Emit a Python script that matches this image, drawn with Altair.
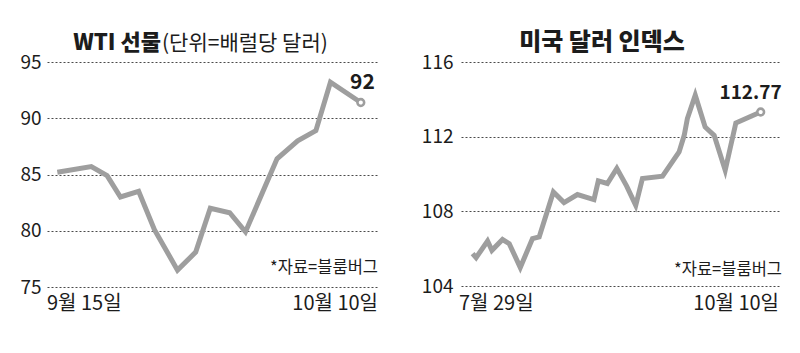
import altair as alt
import pandas as pd

# ---------------- data ----------------
# WTI futures, x = days since 9월 15일
wti_days = [0, 2.8, 4.1, 5.2, 6.7, 8.0, 9.9, 11.4, 12.6, 14.2, 15.5, 18.1, 19.8, 21.3, 22.5, 25]
wti_values = [85.2, 85.7, 84.9, 83.0, 83.5, 80.1, 76.5, 78.1, 82.0, 81.6, 79.9, 86.4, 88.0, 88.9, 93.2, 91.4]
wti_ticks = [75, 80, 85, 90, 95]
wti_end_label = "92"

# US dollar index, x = days since 7월 29일
dxy_days = [0, 0.9, 3.8, 4.9, 7.6, 9.3, 12.1, 15.2, 16.9, 20.5, 23.2, 26.6, 30.8, 31.9, 34.2,
            36.6, 39.1, 41.4, 43.1, 48.2, 52.4, 53.7, 54.5, 56.5, 59.0, 61.3, 64.1, 66.8, 73.1]
dxy_values = [105.74, 105.52, 106.41, 105.91, 106.49, 106.27, 104.99, 106.54, 106.63, 109.04, 108.47,
              108.90, 108.63, 109.63, 109.49, 110.30, 109.35, 108.32, 109.76, 109.88, 111.18, 112.07,
              112.97, 114.22, 112.52, 112.07, 110.20, 112.73, 113.32]
dxy_ticks = [104, 108, 112, 116]
dxy_end_label = "112.77"

left_title_bold = "WTI 선물"
left_title_unit = "(단위=배럴당 달러)"
right_title = "미국 달러 인덱스"
source_text = "*자료=블룸버그"
left_dates = ["9월 15일", "10월 10일"]
right_dates = ["7월 29일", "10월 10일"]

# ---------------- styles ----------------
LINE = "#9e9e9e"
TEXT = "#1c1c1c"
GRID = "#4a4a4a"
KFONT = "Noto Sans CJK KR"


def panel(days, values, ticks, ydom, xdom, w, h, label, label_dx, label_dy, label_size,
          titles, dates, date_x, src_x, src_y, date_y, lab_pad):
    df = pd.DataFrame({"day": days, "value": values})
    end = df.tail(1).assign(label=label)
    x = alt.X("day:Q", scale=alt.Scale(domain=xdom, nice=False, zero=False), axis=None)
    y = alt.Y("value:Q", scale=alt.Scale(domain=ydom, nice=False, zero=False),
              axis=alt.Axis(values=ticks, grid=True, gridDash=[2, 2], gridColor=GRID,
                            gridWidth=1, domain=False, ticks=False, tickSize=0,
                            labelPadding=lab_pad, labelFont=KFONT, labelFontSize=19,
                            labelColor=TEXT, title=None))
    line = alt.Chart(df).mark_line(color=LINE, strokeWidth=5, strokeJoin="miter").encode(x=x, y=y)
    dot = alt.Chart(end).mark_point(shape="circle", filled=True, fill="white", stroke=LINE,
                                    strokeWidth=2.6, size=45, opacity=1).encode(x=x, y=y)
    lab = alt.Chart(end).mark_text(font=KFONT, fontSize=label_size, fontWeight="bold", color=TEXT,
                                   dx=label_dx, dy=label_dy, align="right",
                                   baseline="middle").encode(x=x, y=y, text="label:N")

    one = pd.DataFrame({"t": [0]})
    layers = [line, dot, lab]
    for t in titles:
        layers.append(alt.Chart(one).mark_text(text=t["text"], font=KFONT, fontSize=t["size"],
                                               fontWeight=t["weight"], color=TEXT, align=t["align"],
                                               baseline="alphabetic").encode(
            x=alt.value(t["x"]), y=alt.value(-12)))
    layers.append(alt.Chart(one).mark_text(text=source_text, font=KFONT, fontSize=16.5, color=TEXT,
                                           align="right", baseline="middle").encode(
        x=alt.value(src_x), y=alt.value(src_y)))
    layers.append(alt.Chart(one).mark_text(text=dates[0], font=KFONT, fontSize=20, color=TEXT,
                                           align="left", baseline="middle").encode(
        x=alt.value(date_x[0]), y=alt.value(date_y)))
    layers.append(alt.Chart(one).mark_text(text=dates[1], font=KFONT, fontSize=20, color=TEXT,
                                           align="right", baseline="middle").encode(
        x=alt.value(date_x[1]), y=alt.value(date_y)))
    return alt.layer(*layers).properties(width=w, height=h)


left = panel(
    wti_days, wti_values, wti_ticks, [75, 95], [-0.85, 26.5], 332, 225,
    wti_end_label, 14, -20, 21,
    [dict(text=left_title_bold, size=22, weight=900, align="right", x=114),
     dict(text=left_title_unit, size=21, weight="normal", align="left", x=115)],
    left_dates, [0, 331], 331, 206, 242, 6)

right = panel(
    dxy_days, dxy_values, dxy_ticks, [104, 116], [-2.94, 77.75], 318, 224,
    dxy_end_label, 21, -19, 19,
    [dict(text=right_title, size=24, weight=900, align="center", x=141)],
    right_dates, [-2, 318], 321, 208, 242, 8)

chart = alt.hconcat(left, right, spacing=82, bounds="flush").properties(
    padding={"left": 19, "top": 30, "right": 0, "bottom": 0},
    background="white",
).configure_view(stroke="transparent")

chart.save("out.html", embed_options={"renderer": "svg", "actions": False})
